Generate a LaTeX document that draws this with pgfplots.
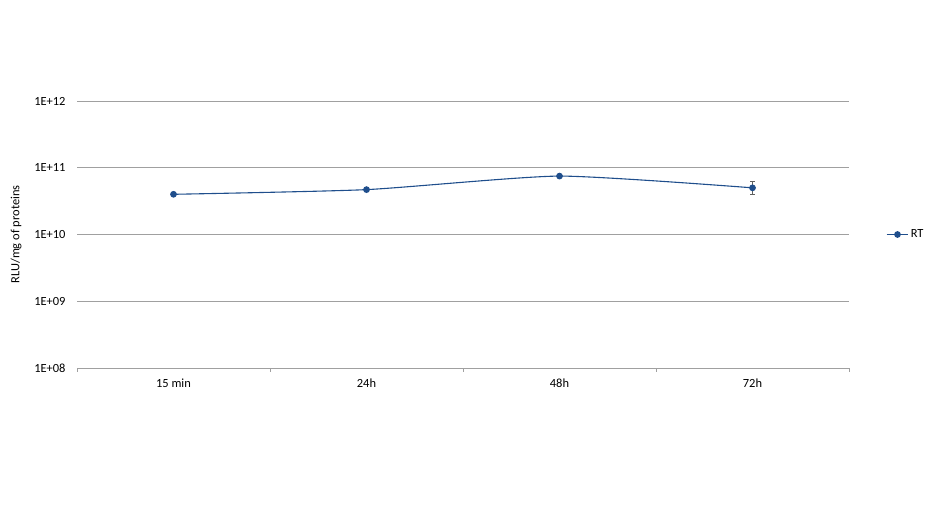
\documentclass[border=0pt]{standalone}
\usepackage{pgfplots}
\pgfplotsset{compat=1.18}
\usepackage{fontspec}
\setmainfont{Carlito}
\definecolor{serblue}{RGB}{31,78,140}
\definecolor{gridgray}{RGB}{160,160,160}
\begin{document}
\begin{tikzpicture}[font=\fontsize{12.5}{15}\selectfont]
\useasboundingbox (0,0) rectangle (936bp,520bp);
\begin{axis}[
  at={(77bp,152bp)}, anchor=south west,
  scale only axis, width=772bp, height=267bp,
  ymode=log, ymin=1e8, ymax=1e12,
  ytick={1e8,1e9,1e10,1e11,1e12},
  yticklabels={1E+08,1E+09,1E+10,1E+11,1E+12},
  yminorticks=false,
  xmin=-0.5, xmax=3.5,
  xtick={0,1,2,3},
  xticklabels={15 min,24h,48h,72h},
  minor xtick={-0.5,0.5,1.5,2.5,3.5},
  major tick length=0pt,
  minor tick length=4bp,
  tick align=outside,
  tick style={gridgray},
  axis x line*=bottom,
  axis y line*=left,
  x axis line style={gridgray, -},
  y axis line style={draw=none},
  ymajorgrids, grid style={gridgray, line width=0.8pt},
  ylabel={RLU/mg of proteins},
  ylabel style={at={(rel axis cs:0,0.5)}, anchor=south, yshift=52bp},
  yticklabel style={xshift=-8bp},
  xticklabel style={yshift=-7bp},
  legend style={at={(1,0.5)}, anchor=west, xshift=34bp, draw=none, fill=none, font=\fontsize{12.5}{15}\selectfont},
  legend cell align=left,
  legend image code/.code={\draw[#1, mark repeat=2, mark phase=2] plot coordinates {(0cm,0cm) (0.38cm,0cm) (0.76cm,0cm)};},
  clip=false,
]
\addplot[color=serblue, line width=1.1pt, smooth, tension=0.35, mark=*, mark size=2.8pt, mark options={fill=serblue, draw=serblue},
  error bars/.cd, y dir=both, y explicit, error bar style={gridgray!60!black, line width=0.6pt}, error mark options={rotate=90, mark size=2.5pt, gridgray!60!black}]
  coordinates {
    (0,4.0e10) +- (0,0)
    (1,4.7e10) +- (0,0)
    (2,7.5e10) +- (0,0)
    (3,5.0e10) += (0,1.2e10) -= (0,1.0e10)
  };
\addlegendentry{RT}
\end{axis}
\end{tikzpicture}
\end{document}
